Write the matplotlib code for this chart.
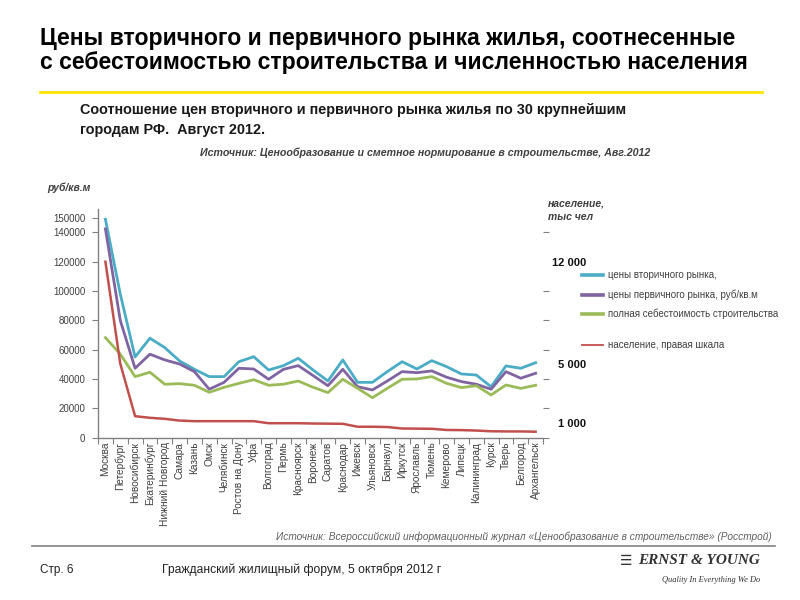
import matplotlib
matplotlib.use('Agg')
import matplotlib.pyplot as plt
from matplotlib.lines import Line2D
from matplotlib.ticker import FixedLocator, FuncFormatter

plt.rcParams['font.family'] = ['Liberation Sans', 'DejaVu Sans']

cities = ['Москва', 'Петербург', 'Новосибирск', 'Екатеринбург', 'Нижний Новгород',
          'Самара', 'Казань', 'Омск', 'Челябинск', 'Ростов на Дону', 'Уфа',
          'Волгоград', 'Пермь', 'Красноярск', 'Воронеж', 'Саратов', 'Краснодар',
          'Ижевск', 'Ульяновск', 'Барнаул', 'Иркутск', 'Ярославль', 'Тюмень',
          'Кемерово', 'Липецк', 'Калининград', 'Курск', 'Тверь', 'Белгород',
          'Архангельск']

# rub per sq.m
secondary = [149000, 98000, 55000, 67800, 61400, 52300, 46600, 41600, 41600, 51800,
             55200, 46100, 49100, 54100, 46100, 38600, 53000, 37700, 37700, 45000,
             51800, 46800, 52500, 48400, 43400, 42700, 34700, 48900, 47300, 51100]
primary = [142400, 80000, 47300, 56900, 53000, 50200, 45000, 33000, 37700, 47300,
           46800, 39800, 46600, 49100, 42300, 35400, 46600, 34700, 32500, 38600,
           45000, 44300, 45500, 41200, 38200, 36400, 33000, 45000, 40500, 43900]
cost = [68200, 57000, 41600, 44600, 36400, 36800, 35700, 30900, 34300, 37000,
        39500, 35700, 36400, 38600, 34300, 30700, 39800, 33600, 27200, 33600,
        39800, 40000, 41600, 37000, 34100, 35400, 29100, 35900, 33600, 35700]
# population, thousand people (right scale)
population = [12000, 5050, 1460, 1350, 1280, 1160, 1120, 1120, 1120, 1120,
              1120, 980, 980, 980, 960, 950, 940, 740, 740, 720,
              620, 610, 600, 520, 510, 480, 430, 420, 420, 400]

left_ticks = [0, 20000, 40000, 60000, 80000, 100000, 120000, 140000, 150000]
grid_levels = [20000, 40000, 60000, 80000, 100000, 120000, 140000]
right_labels = [1000, 5000, 12000]
right_marks = [0, 2000, 4000, 6000, 8000, 10000, 12000, 14000]

legend_labels = ['цены вторичного рынка,', 'цены первичного рынка, руб/кв.м',
                 'полная себестоимость строительства', 'население, правая шкала']

C_SEC = '#4BACC6'
C_PRI = '#8064A2'
C_COST = '#9BBB59'
C_POP = '#C0504D'
TXT = '#404040'

fig = plt.figure(figsize=(8, 6), dpi=100)
fig.patch.set_facecolor('white')

ax = fig.add_axes([0.1225, 0.2707, 0.5563, 0.381])
x = list(range(len(cities)))
ax.plot(x, secondary, color=C_SEC, lw=2.0, solid_joinstyle='round')
ax.plot(x, primary, color=C_PRI, lw=2.0, solid_joinstyle='round')
ax.plot(x, cost, color=C_COST, lw=2.0, solid_joinstyle='round')
ax.set_xlim(-0.5, len(cities) - 0.5)
ax.set_ylim(0, 156000)

ax.yaxis.set_major_locator(FixedLocator(left_ticks))
ax.yaxis.set_minor_locator(FixedLocator(grid_levels))
ax.yaxis.set_major_formatter(FuncFormatter(lambda v, p: f'{int(v)}'))
ax.tick_params(axis='y', which='major', labelsize=7, labelcolor=TXT, colors='#808080',
               length=4, width=0.8, pad=5)
ax.tick_params(axis='y', which='minor', length=0)
ax.grid(axis='y', which='minor', color='#808080', lw=1.0)
ax.set_axisbelow(True)

ax.xaxis.set_major_locator(FixedLocator(x))
ax.set_xticklabels(cities, rotation=90, fontsize=7.3, color=TXT)
ax.xaxis.set_minor_locator(FixedLocator([i - 0.5 for i in range(len(cities) + 1)]))
ax.tick_params(axis='x', which='major', length=0, pad=3)
ax.tick_params(axis='x', which='minor', length=4, width=0.8, color='#808080')

for s in ['top', 'right']:
    ax.spines[s].set_visible(False)
for s in ['left', 'bottom']:
    ax.spines[s].set_color('#808080')
    ax.spines[s].set_linewidth(1.0)

ax2 = ax.twinx()
ax2.plot(x, population, color=C_POP, lw=1.8)
ax2.set_ylim(0, 15600)
ax2.yaxis.set_major_locator(FixedLocator(right_labels))
ax2.yaxis.set_major_formatter(FuncFormatter(lambda v, p: f'{int(v):,}'.replace(',', ' ')))
ax2.yaxis.set_minor_locator(FixedLocator(right_marks))
ax2.tick_params(axis='y', which='major', length=0, pad=31, labelsize=8, labelcolor='#111111')
ax2.tick_params(axis='y', which='minor', length=4, width=0.8, color='#808080')
for lab in ax2.get_yticklabels():
    lab.set_fontweight('bold')
    lab.set_horizontalalignment('right')
for s in ax2.spines.values():
    s.set_visible(False)

# Legend (manual, irregular spacing as in the reference)
leg_y = [275, 295, 314, 345]
leg_c = [C_SEC, C_PRI, C_COST, C_POP]
leg_w = [2.6, 2.6, 2.6, 1.3]
for yy, cc, ww, lab in zip(leg_y, leg_c, leg_w, legend_labels):
    fy = 1 - yy / 600
    fig.add_artist(Line2D([582 / 800, 603 / 800], [fy, fy], color=cc, lw=ww))
    fig.text(608 / 800, fy, lab, fontsize=7.0, color=TXT, va='center', ha='left')

# Page texts
fig.text(40 / 800, 1 - 38 / 600, 'Цены вторичного и первичного рынка жилья, соотнесенные',
         fontsize=16.6, fontweight='bold', color='#000000', va='center', ha='left')
fig.text(40 / 800, 1 - 62 / 600, 'с себестоимостью строительства и численностью населения',
         fontsize=16.6, fontweight='bold', color='#000000', va='center', ha='left')
fig.add_artist(Line2D([40 / 800, 762 / 800], [1 - 92 / 600, 1 - 92 / 600], color='#FFE600', lw=2))

fig.text(80 / 800, 1 - 110 / 600,
         'Соотношение цен вторичного и первичного рынка жилья по 30 крупнейшим',
         fontsize=10.4, fontweight='bold', color='#1a1a1a', va='center', ha='left')
fig.text(80 / 800, 1 - 130 / 600, 'городам РФ.  Август 2012.',
         fontsize=10.4, fontweight='bold', color='#1a1a1a', va='center', ha='left')
fig.text(650 / 800, 1 - 153 / 600,
         'Источник: Ценообразование и сметное нормирование в строительстве, Авг.2012',
         fontsize=7.7, fontstyle='italic', fontweight='bold', color=TXT, va='center', ha='right')

fig.text(47 / 800, 1 - 188 / 600, 'руб/кв.м', fontsize=7.5, fontstyle='italic',
         fontweight='bold', color=TXT, va='center', ha='left')
fig.text(548 / 800, 1 - 203 / 600, 'население,', fontsize=7.5, fontstyle='italic',
         fontweight='bold', color=TXT, va='center', ha='left')
fig.text(548 / 800, 1 - 217 / 600, 'тыс чел', fontsize=7.5, fontstyle='italic',
         fontweight='bold', color=TXT, va='center', ha='left')

fig.text(772 / 800, 1 - 537 / 600,
         'Источник: Всероссийский информационный журнал «Ценообразование в строительстве» (Росстрой)',
         fontsize=7.3, fontstyle='italic', color='#606060', va='center', ha='right')
fig.add_artist(Line2D([32 / 800, 775 / 800], [1 - 546 / 600, 1 - 546 / 600], color='#808080', lw=1.2))

fig.text(40 / 800, 1 - 570 / 600, 'Стр. 6', fontsize=8.5, color='#222222',
         va='center', ha='left')
fig.text(162 / 800, 1 - 570 / 600, 'Гражданский жилищный форум, 5 октября 2012 г', fontsize=8.75,
         color='#222222', va='center', ha='left')

fig.text(620 / 800, 1 - 561 / 600, '☰', fontsize=10, fontweight='bold', color='#333333',
         family=['DejaVu Sans'], va='center', ha='left')
fig.text(760 / 800, 1 - 561 / 600, 'ERNST & YOUNG', fontsize=11, fontweight='bold',
         fontstyle='italic', color='#333333', family=['Liberation Serif'], va='center', ha='right')
fig.text(760 / 800, 1 - 580 / 600, 'Quality In Everything We Do', fontsize=6,
         fontstyle='italic', color='#333333', family=['Liberation Serif'], va='center', ha='right')

fig.savefig('out.png', dpi=100)
